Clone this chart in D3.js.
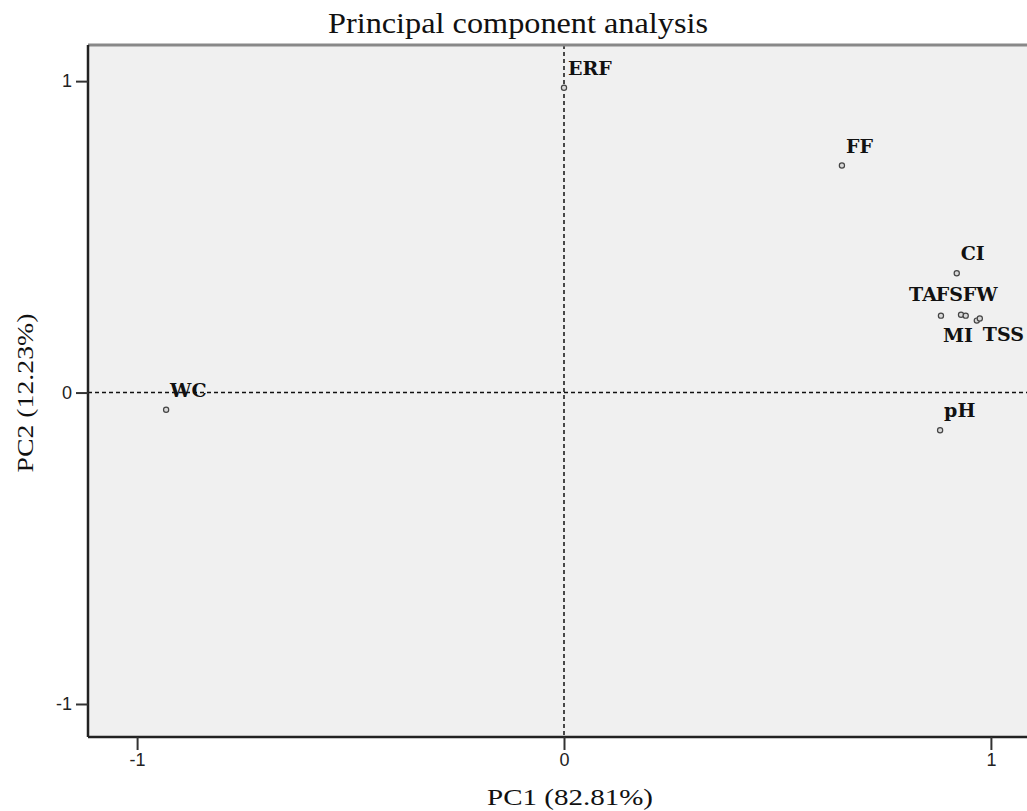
<!DOCTYPE html>
<html>
<head>
<meta charset="utf-8">
<script src="https://cdn.jsdelivr.net/npm/d3@7"></script>
<style>
  body { margin: 0; background: #fff; overflow: hidden; }
  svg { display: block; }
</style>
</head>
<body>
<div id="chart"></div>
<script>
// component loadings
var variables = ['ERF', 'FF', 'CI', 'TA', 'FS', 'FW', 'MI', 'TSS', 'pH', 'WC'];
var pc1 = [0.000, 0.651, 0.920, 0.883, 0.930, 0.941, 0.967, 0.974, 0.881, -0.932];
var pc2 = [0.979, 0.729, 0.383, 0.247, 0.250, 0.247, 0.231, 0.238, -0.121, -0.055];
var xTicks = [-1, 0, 1];
var yTicks = [-1, 0, 1];

var points = variables.map(function(v, i){ return {name: v, x: pc1[i], y: pc2[i]} });

// label nudges for the crowded cluster (default sits up-right of the point)
var nudge = {
  'TA':  {dx: -4, dy: -15, anchor: 'end'},
  'FS':  {dx: 2,  dy: -14, anchor: 'end'},
  'FW':  {dx: -3, dy: -15, anchor: 'start'},
  'MI':  {dx: -4, dy: 21,  anchor: 'end'},
  'TSS': {dx: 3,  dy: 23,  anchor: 'start'}
};

var width = 1027, height = 811;
var plotLeft = 88, plotTop = 45, plotRight = 1040, plotBottom = 737;

var svg = d3.select('#chart')
  .append('svg')
  .attr('width', width)
  .attr('height', height);

var x = d3.scaleLinear().domain([-1.115, 1.115]).range([plotLeft, plotRight]);
var y = d3.scaleLinear().domain([-1.106, 1.116]).range([plotBottom, plotTop]);

// plot background
svg.append('rect')
  .attr('x', plotLeft)
  .attr('y', plotTop)
  .attr('width', plotRight - plotLeft)
  .attr('height', plotBottom - plotTop)
  .attr('fill', '#f0f0f0');

// zero reference lines
svg.append('line')
  .attr('x1', x(0)).attr('x2', x(0))
  .attr('y1', plotTop).attr('y2', plotBottom)
  .attr('stroke', '#111')
  .attr('stroke-width', 1.5)
  .attr('stroke-dasharray', '4,3');
svg.append('line')
  .attr('x1', plotLeft).attr('x2', width)
  .attr('y1', y(0)).attr('y2', y(0))
  .attr('stroke', '#111')
  .attr('stroke-width', 1.5)
  .attr('stroke-dasharray', '4,3');

// frame: gray top, dark left/bottom
svg.append('line')
  .attr('x1', plotLeft).attr('x2', width)
  .attr('y1', plotTop).attr('y2', plotTop)
  .attr('stroke', '#888')
  .attr('stroke-width', 3);

var xAxis = svg.append('g')
  .attr('transform', 'translate(0,' + plotBottom + ')')
  .call(d3.axisBottom(x).tickValues(xTicks).tickSize(13).tickPadding(3).tickFormat(d3.format('d')));
var yAxis = svg.append('g')
  .attr('transform', 'translate(' + plotLeft + ',0)')
  .call(d3.axisLeft(y).tickValues(yTicks).tickSize(12).tickPadding(4).tickFormat(d3.format('d')));

[xAxis, yAxis].forEach(function(a){
  a.attr('font-size', 18).attr('font-family', '"Liberation Sans", Arial, sans-serif');
  a.select('.domain').attr('stroke', '#222').attr('stroke-width', 2.5);
  a.selectAll('.tick line').attr('stroke', '#333').attr('stroke-width', 2);
  a.selectAll('.tick text')
    .attr('fill', '#222')
    .text(function(d){ return d < 0 ? '-1' : d });
});
// axis lines without the outer end caps
xAxis.select('.domain').attr('d', 'M' + plotLeft + ',0H' + width);
yAxis.select('.domain').attr('d', 'M0,' + plotTop + 'V' + plotBottom);

// points
svg.selectAll('circle.pt')
  .data(points)
  .enter()
  .append('circle')
  .attr('class', 'pt')
  .attr('cx', function(d){ return x(d.x) })
  .attr('cy', function(d){ return y(d.y) })
  .attr('r', 2.6)
  .attr('fill', '#d8d8d8')
  .attr('stroke', '#444')
  .attr('stroke-width', 1.2);

// point labels
svg.selectAll('text.lbl')
  .data(points)
  .enter()
  .append('text')
  .attr('class', 'lbl')
  .attr('x', function(d){ return x(d.x) + (nudge[d.name] ? nudge[d.name].dx : 4) })
  .attr('y', function(d){ return y(d.y) + (nudge[d.name] ? nudge[d.name].dy : -13) })
  .attr('text-anchor', function(d){ return nudge[d.name] ? nudge[d.name].anchor : 'start' })
  .style('font-family', '"DejaVu Serif", serif')
  .style('font-weight', 'bold')
  .style('font-size', '19px')
  .attr('fill', '#111')
  .text(function(d){ return d.name });

// titles
svg.append('text')
  .attr('x', 518)
  .attr('y', 33)
  .attr('text-anchor', 'middle')
  .attr('textLength', 380)
  .attr('lengthAdjust', 'spacingAndGlyphs')
  .style('font-family', '"Liberation Serif", serif')
  .style('font-size', '29px')
  .attr('fill', '#111')
  .text('Principal component analysis');

svg.append('text')
  .attr('x', 570)
  .attr('y', 805)
  .attr('text-anchor', 'middle')
  .attr('textLength', 166)
  .attr('lengthAdjust', 'spacingAndGlyphs')
  .style('font-family', '"Liberation Serif", serif')
  .style('font-size', '23px')
  .attr('fill', '#111')
  .text('PC1 (82.81%)');

svg.append('text')
  .attr('transform', 'translate(33,393) rotate(-90)')
  .attr('text-anchor', 'middle')
  .attr('textLength', 159)
  .attr('lengthAdjust', 'spacingAndGlyphs')
  .style('font-family', '"Liberation Serif", serif')
  .style('font-size', '23px')
  .attr('fill', '#111')
  .text('PC2 (12.23%)');
</script>
</body>
</html>
